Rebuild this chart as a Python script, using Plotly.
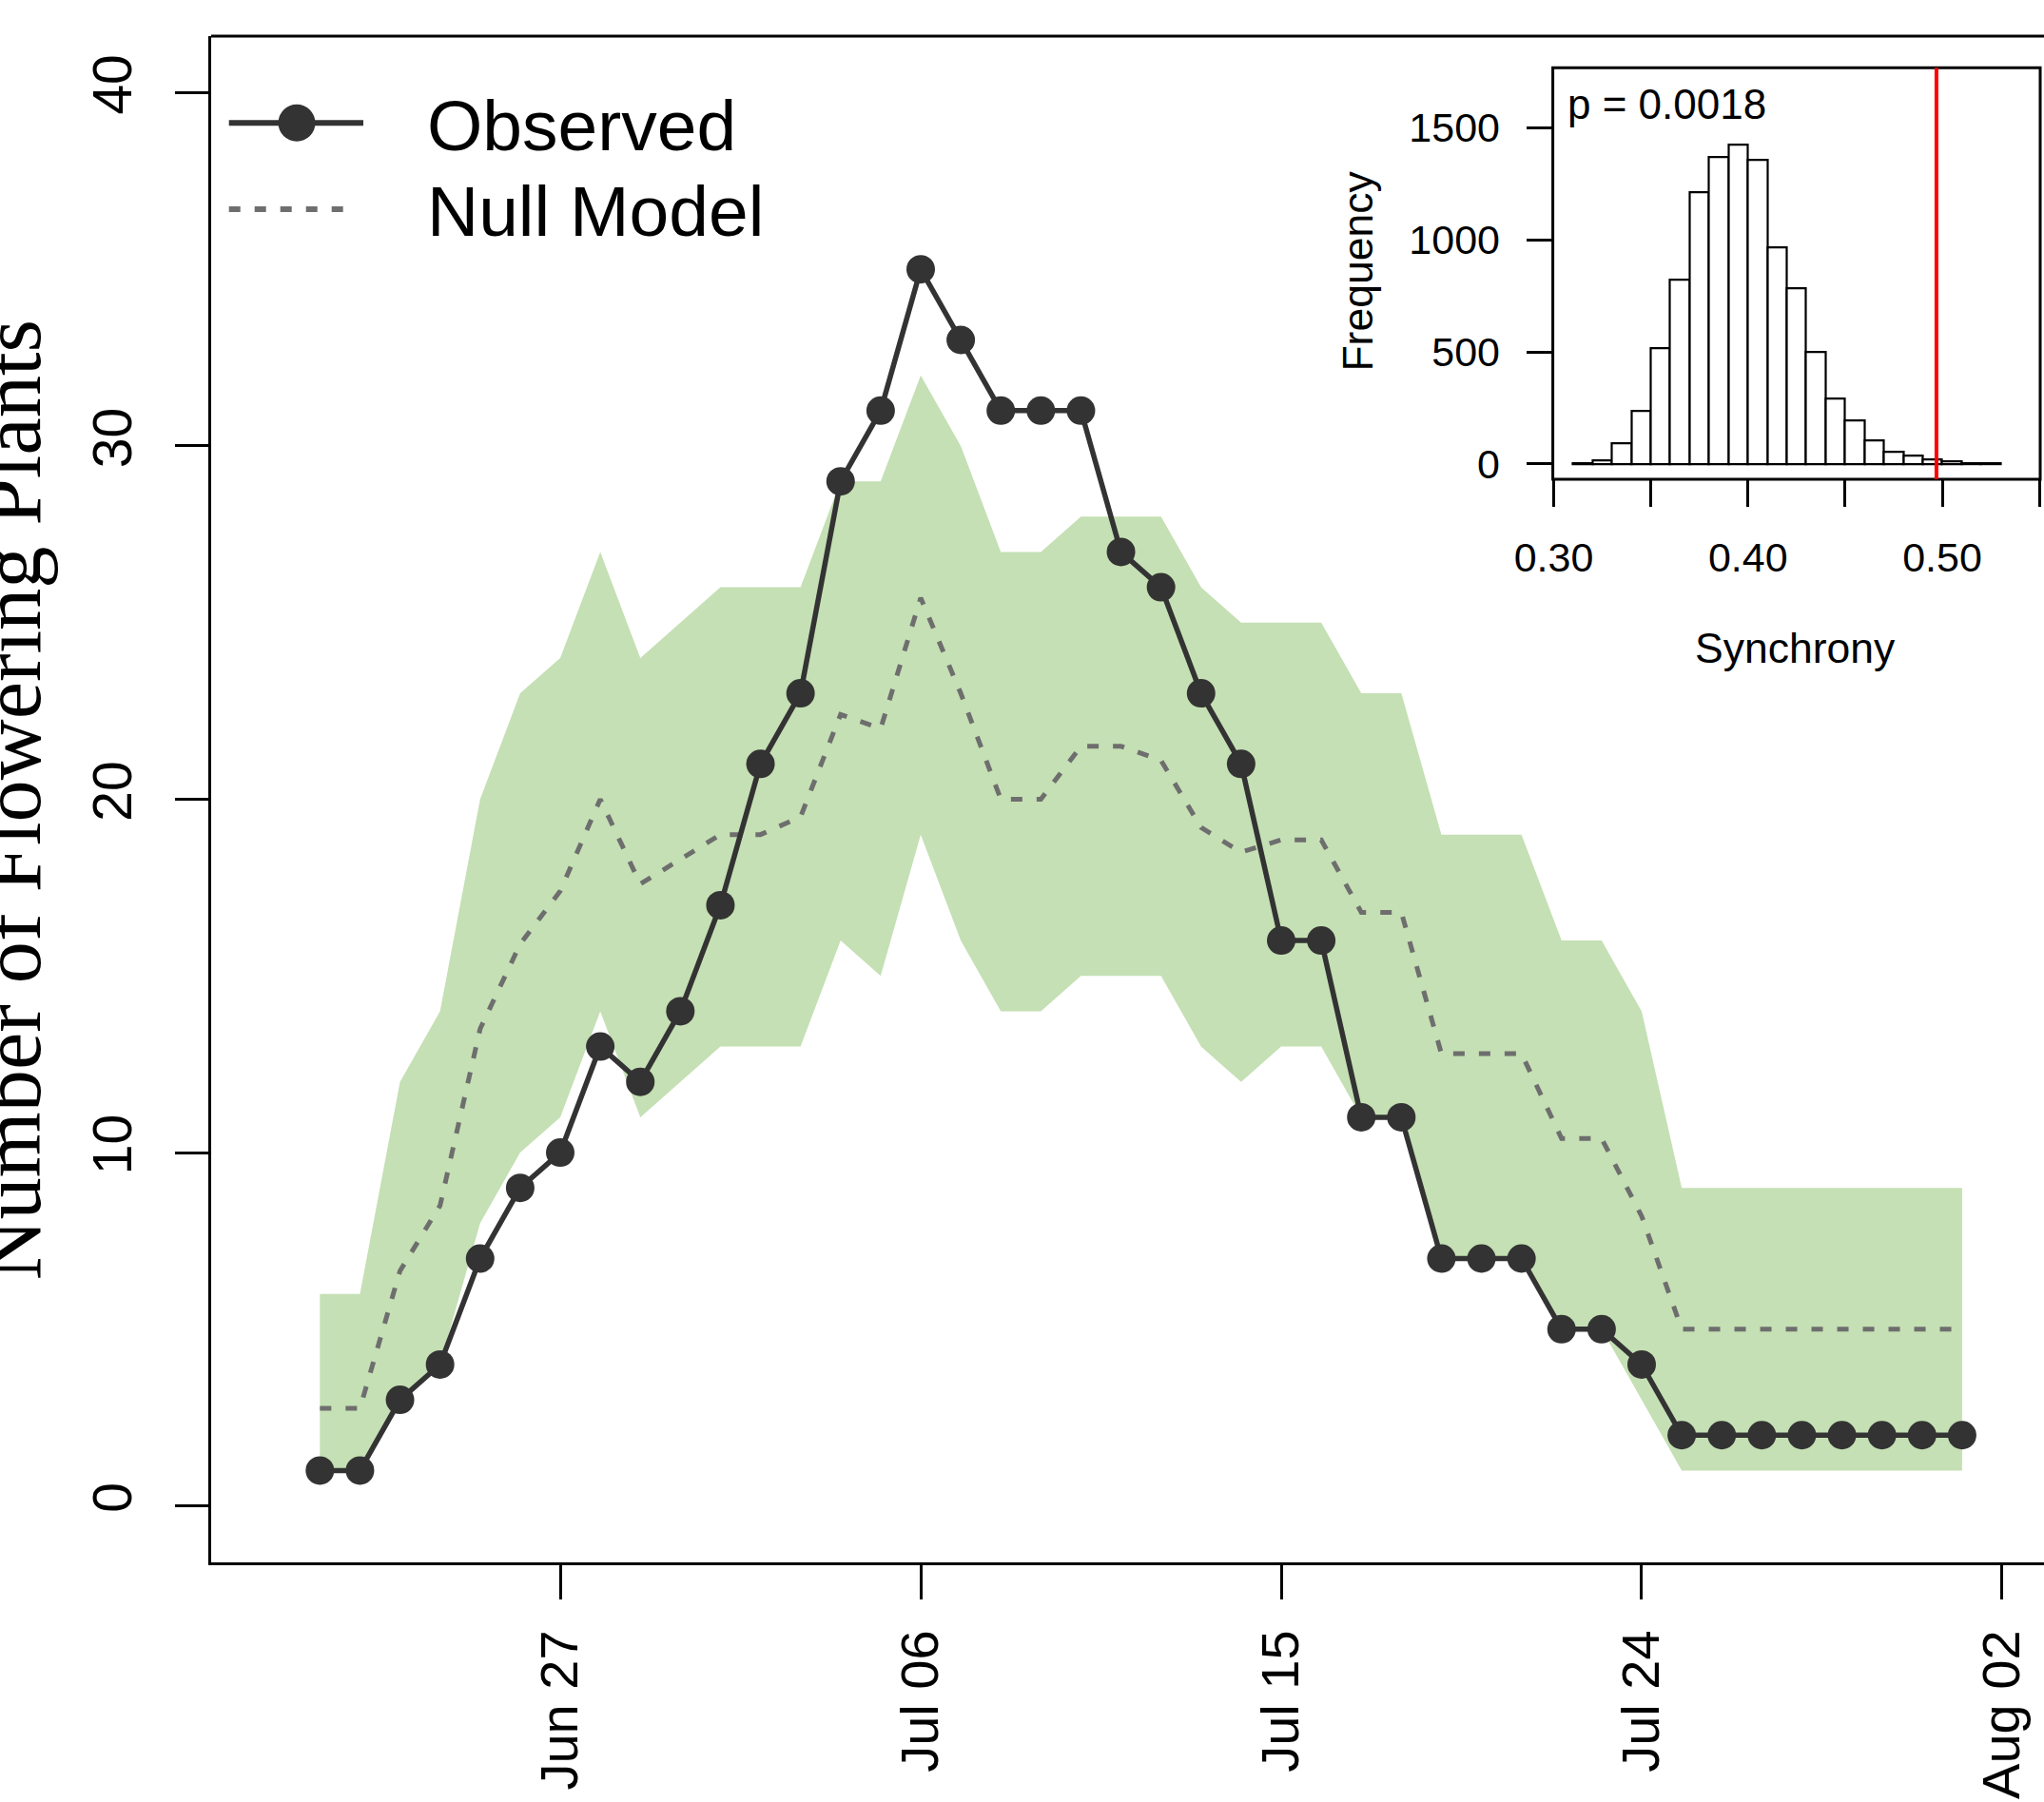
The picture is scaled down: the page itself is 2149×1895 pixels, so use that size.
import plotly.graph_objects as go
import pandas as pd

# ---------------- data ----------------
start_date = "2018-06-21"
end_date = "2018-08-01"
dates = pd.date_range(start_date, end_date, freq="D")

observed = [1, 1, 3, 4, 7, 9, 10, 13, 12, 14,
            17, 21, 23, 29, 31, 35, 33, 31, 31, 31,
            27, 26, 23, 21, 16, 16, 11, 11, 7, 7,
            7, 5, 5, 4, 2, 2, 2, 2, 2, 2, 2,
            2]
null_mean = [2.76, 2.76, 6.65, 8.5, 13.5, 15.9, 17.4, 20.0, 17.6, 18.3,
             19.0, 19.0, 19.5, 22.4, 22.0, 25.7, 23.0, 20.0, 20.0, 21.5,
             21.5, 21.1, 19.2, 18.5, 18.85, 18.85, 16.8, 16.8, 12.8, 12.8,
             12.8, 10.4, 10.4, 8.2, 5.0, 5.0, 5.0, 5.0, 5.0, 5.0, 5.0,
             5.0]
null_upper = [6, 6, 12, 14, 20, 23, 24, 27, 24, 25,
              26, 26, 26, 29, 29, 32, 30, 27, 27, 28,
              28, 28, 26, 25, 25, 25, 23, 23, 19, 19,
              19, 16, 16, 14, 9, 9, 9, 9, 9, 9, 9,
              9]
null_lower = [1, 1, 3, 4, 8, 10, 11, 14, 11, 12,
              13, 13, 13, 16, 15, 19, 16, 14, 14, 15,
              15, 15, 13, 12, 13, 13, 11, 11, 7, 7,
              7, 5, 5, 3, 1, 1, 1, 1, 1, 1, 1,
              1]

tick_dates = ["2018-06-27", "2018-07-06", "2018-07-15", "2018-07-24", "2018-08-02"]
tick_labels = ["Jun 27", "Jul 06", "Jul 15", "Jul 24", "Aug 02"]
y_ticks = [0, 10, 20, 30, 40]

# inset histogram of null-model synchrony
hist_bin_left = [0.31, 0.32, 0.33, 0.34, 0.35, 0.36, 0.37, 0.38, 0.39, 0.40, 0.41,
                 0.42, 0.43, 0.44, 0.45, 0.46, 0.47, 0.48, 0.49, 0.50, 0.51, 0.52]
hist_counts = [5, 15, 94, 236, 518, 821, 1212, 1370, 1423, 1357, 965,
               782, 498, 293, 195, 105, 54, 39, 20, 13, 5, 3]
hist_bin_width = 0.01
observed_synchrony = 0.497
p_text = "p = 0.0018"
inset_x_ticks = [0.30, 0.35, 0.40, 0.45, 0.50, 0.55]
inset_x_labels = ["0.30", "", "0.40", "", "0.50", ""]
inset_y_ticks = [0, 500, 1000, 1500]

# ---------------- geometry ----------------
W, H = 2149, 1895
ML, MR, MT, MB = 222, 0, 38, 252
PW, PH = W - ML - MR, H - MT - MB


def px(xp):
    return (xp - ML) / PW


def py(yp):
    return (H - MB - yp) / PH


SANS = "Liberation Sans, Arial, sans-serif"
SERIF = "Liberation Serif, Times New Roman, serif"
DARK = "#333333"
DOT = "#6e6e6e"
GREEN = "#C5E0B4"

fig = go.Figure()

fig.add_trace(go.Scatter(x=dates, y=null_lower, mode="lines",
                         line=dict(width=0, color=GREEN), showlegend=False,
                         hoverinfo="skip"))
fig.add_trace(go.Scatter(x=dates, y=null_upper, mode="lines", fill="tonexty",
                         fillcolor=GREEN, line=dict(width=0, color=GREEN),
                         showlegend=False, hoverinfo="skip"))
fig.add_trace(go.Scatter(x=dates, y=null_mean, mode="lines",
                         line=dict(color=DOT, width=5, dash="12px,15px"),
                         showlegend=False))
fig.add_trace(go.Scatter(x=dates, y=observed, mode="lines+markers",
                         line=dict(color=DARK, width=5.5),
                         marker=dict(color=DARK, size=30, line=dict(width=0)),
                         showlegend=False))

# inset histogram
bin_centers = [b + hist_bin_width / 2 for b in hist_bin_left]
fig.add_trace(go.Bar(x=bin_centers, y=hist_counts, width=hist_bin_width,
                     marker=dict(color="white", line=dict(color="black", width=2.2)),
                     xaxis="x2", yaxis="y2", showlegend=False))

x_left = pd.Timestamp("2018-06-27") + pd.Timedelta(days=-8.715)
x_right = pd.Timestamp("2018-06-27") + pd.Timedelta(days=37.045)

fig.update_layout(
    width=W, height=H, autosize=False,
    margin=dict(l=ML, r=MR, t=MT, b=MB, pad=0, autoexpand=False),
    paper_bgcolor="white", plot_bgcolor="white",
    showlegend=False,
    bargap=0,
    xaxis=dict(
        type="date", range=[x_left, x_right], automargin=False,
        tickvals=tick_dates, ticktext=tick_labels, tickangle=-90,
        tickfont=dict(family=SANS, size=56, color="black"),
        ticks="outside", ticklen=36, tickwidth=3, tickcolor="black",
        ticklabelstandoff=10,
        showline=True, linewidth=3, linecolor="black",
        showgrid=False, zeroline=False, domain=[0, 1],
    ),
    yaxis=dict(
        range=[-1.6, 41.6], tickvals=y_ticks, tickangle=-90, automargin=False,
        tickfont=dict(family=SANS, size=57, color="black"),
        ticks="outside", ticklen=35, tickwidth=3, tickcolor="black",
        ticklabelstandoff=23,
        showline=True, linewidth=3, linecolor="black",
        showgrid=False, zeroline=False, domain=[0, 1],
    ),
    xaxis2=dict(
        domain=[px(1632.6), px(2145)], anchor="y2", automargin=False,
        range=[0.29956, 0.5504], tickvals=inset_x_ticks, ticktext=inset_x_labels,
        tickangle=0, tickfont=dict(family=SANS, size=43, color="black"),
        ticks="outside", ticklen=28, tickwidth=2.5, tickcolor="black",
        ticklabelstandoff=16,
        showline=False, showgrid=False, zeroline=False,
    ),
    yaxis2=dict(
        domain=[py(504), py(71.2)], anchor="x2", automargin=False,
        range=[-68, 1768], tickvals=inset_y_ticks, tickangle=0,
        tickfont=dict(family=SANS, size=43, color="black"),
        ticks="outside", ticklen=27, tickwidth=2.5, tickcolor="black",
        ticklabelstandoff=19,
        showline=False, showgrid=False, zeroline=False,
    ),
)

shapes = [
    # top border of main panel
    dict(type="line", xref="paper", yref="paper", x0=0, x1=1, y0=1, y1=1,
         line=dict(color="black", width=3)),
    # inset box
    dict(type="rect", xref="x2 domain", yref="y2 domain", x0=0, x1=1, y0=0, y1=1,
         line=dict(color="black", width=3)),
    # observed synchrony
    dict(type="line", xref="x2", yref="y2 domain", x0=observed_synchrony,
         x1=observed_synchrony, y0=0, y1=1, line=dict(color="#ff0000", width=4)),
    # legend symbols
    dict(type="line", xref="paper", yref="paper", x0=px(240.7), x1=px(382),
         y0=py(129.3), y1=py(129.3), line=dict(color=DARK, width=6)),
    dict(type="circle", xref="paper", yref="paper", x0=px(312 - 19.5), x1=px(312 + 19.5),
         y0=py(129.3 + 19.5), y1=py(129.3 - 19.5), fillcolor=DARK, line=dict(width=0)),
    dict(type="line", xref="paper", yref="paper", x0=px(240.7), x1=px(368),
         y0=py(220), y1=py(220), line=dict(color=DOT, width=6, dash="12px,15px")),
]
fig.update_layout(shapes=shapes)

annotations = [
    dict(text="Number of Flowering Plants", xref="paper", yref="paper",
         x=px(12.3), y=py(841), xanchor="center", yanchor="middle", textangle=-90,
         showarrow=False, font=dict(family=SERIF, size=88.5, color="black")),
    dict(text="Observed", xref="paper", yref="paper", x=px(447), y=py(131.8),
         xanchor="left", yanchor="middle", showarrow=False,
         font=dict(family=SANS, size=75, color="black")),
    dict(text="Null Model", xref="paper", yref="paper", x=px(447), y=py(221.5),
         xanchor="left", yanchor="middle", showarrow=False,
         font=dict(family=SANS, size=75, color="black")),
    dict(text=p_text, xref="paper", yref="paper", x=px(1646), y=py(109.4),
         xanchor="left", yanchor="middle", showarrow=False,
         font=dict(family=SANS, size=44, color="black")),
    dict(text="Frequency", xref="paper", yref="paper", x=px(1426.6), y=py(285),
         xanchor="center", yanchor="middle", textangle=-90, showarrow=False,
         font=dict(family=SANS, size=44.5, color="black")),
    dict(text="Synchrony", xref="paper", yref="paper", x=px(1887.6), y=py(681.8),
         xanchor="center", yanchor="middle", showarrow=False,
         font=dict(family=SANS, size=44.5, color="black")),
]
fig.update_layout(annotations=annotations)

fig.write_html("out.html", config={"displayModeBar": False},
               post_script="document.body.style.margin='0px';")
